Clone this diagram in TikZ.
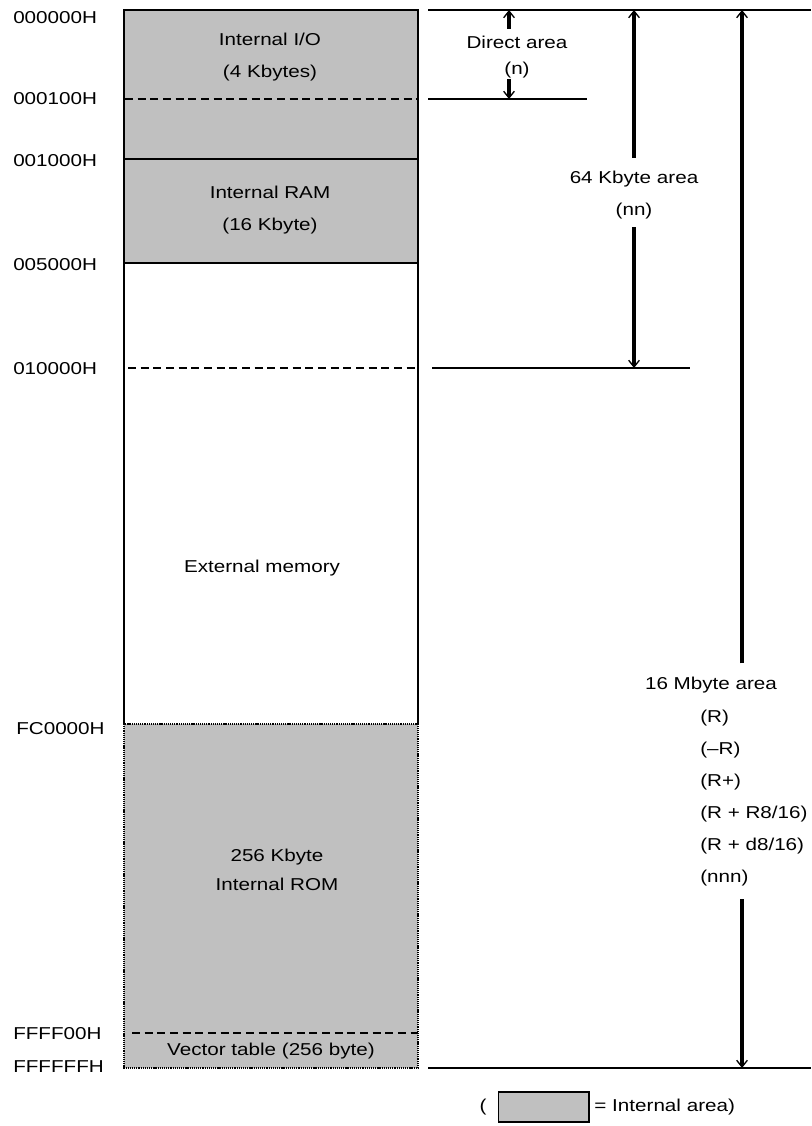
\documentclass[tikz,border=0pt]{standalone}
\usepackage{fontspec}
\setmainfont{Liberation Sans}[FakeStretch=1.2]
\usetikzlibrary{arrows.meta,positioning}
\definecolor{intgray}{RGB}{192,192,192}

\begin{document}
\begin{tikzpicture}[
  x=0.75pt, y=-0.75pt,
  every node/.style={font=\fontsize{12.9}{24}\selectfont, inner sep=0pt},
  addr/.style={anchor=west},
  region/.style={align=center},
  border/.style={line width=1pt},
  cut/.style={line width=1.7pt, dash pattern=on 6pt off 3.5pt},
  romedge/.style={line width=1pt, dash pattern=on 0.9pt off 0.7pt},
  rule/.style={line width=1.2pt},
  span/.style={line width=2.3pt, -{Straight Barb[length=5pt,width=8pt,line width=1pt 0]}},
  keybox/.style={draw, fill=intgray, line width=1pt, minimum width=68pt, minimum height=22.5pt}
]
\useasboundingbox (0,0) rectangle (811,1126);

% ===== Memory column =====
\fill[intgray] (124,10) rectangle (418,263);
\fill[intgray] (124,724) rectangle (418,1068);
\draw[border] (124,724) -- (124,10) -- (418,10) -- (418,724);
\draw[border] (124,159) -- (418,159);
\draw[border] (124,263) -- (418,263);
\draw[cut] (125,99) -- (418,99);
\draw[cut] (128,368) -- (418,368);
\draw[cut] (132,1033) -- (418,1033);
\draw[romedge] (124,724) rectangle (418,1068);

% ----- Region texts -----
\node[region] (io)  at (270,57)  {Internal I/O\\(4 Kbytes)};
\node[region] (ram) at (270,210) {Internal RAM\\(16 Kbyte)};
\node[region] (ext) at (262,568) {External memory};
\node[region] (rom) at (277,870) {256 Kbyte\\[-2.2pt]Internal ROM};
\node[region] (vec) at (271,1051) {Vector table (256 byte)};

% ----- Addresses -----
\node[addr] (a0)  at (13,18)   {000000H};
\node[addr] (a1)  at (13,99)   {000100H};
\node[addr] (a2)  at (13,161)  {001000H};
\node[addr] (a3)  at (13,265)  {005000H};
\node[addr] (a4)  at (13,369)  {010000H};
\node[addr] (a5)  at (16,729)  {FC0000H};
\node[addr] (a6)  at (13,1034) {FFFF00H};
\node[addr] (a7)  at (13,1067) {FFFFFFH};

% ===== Area spans =====
\draw[rule] (428,10) -- (811,10);
\draw[rule] (428,99) -- (587,99);
\draw[rule] (432,368) -- (690,368);
\draw[rule] (428,1068) -- (811,1068);

\coordinate (dtop) at (509,10);
\coordinate (dbot) at (509,99);
\coordinate (ktop) at (634,10);
\coordinate (kbot) at (634,368);
\coordinate (mtop) at (742,10);
\coordinate (mbot) at (742,1068);

\node[region, font=\fontsize{12.9}{19}\selectfont] (direct) at (517,57) {Direct area\\(n)};
\node[region] (kb64) at (634,195.5) {64 Kbyte area\\(nn)};
\node (mb16) at (711,685) {16 Mbyte area};
\node[anchor=north west, align=left] (modes) at (700,710)
  {(R)\\(–R)\\(R+)\\(R + R8/16)\\(R + d8/16)\\(nnn)};

\draw[span, shorten <=5.5pt] (direct.north -| dtop) -- (dtop);
\draw[span, shorten <=0.5pt] (direct.south -| dbot) -- (dbot);
\draw[span, shorten <=10pt] (kb64.north -| ktop) -- (ktop);
\draw[span, shorten <=5.5pt] (kb64.south -| kbot) -- (kbot);
\draw[span, shorten <=10pt] (mb16.north -| mtop) -- (mtop);
\draw[span, shorten <=9.5pt] (modes.south -| mbot) -- (mbot);

% ----- Legend -----
\node[keybox] (key) at (543.5,1107) {};
\node[left=8pt of key] (keyl) {(};
\node[right=3.5pt of key] (keyr) {= Internal area)};
\end{tikzpicture}
\end{document}
